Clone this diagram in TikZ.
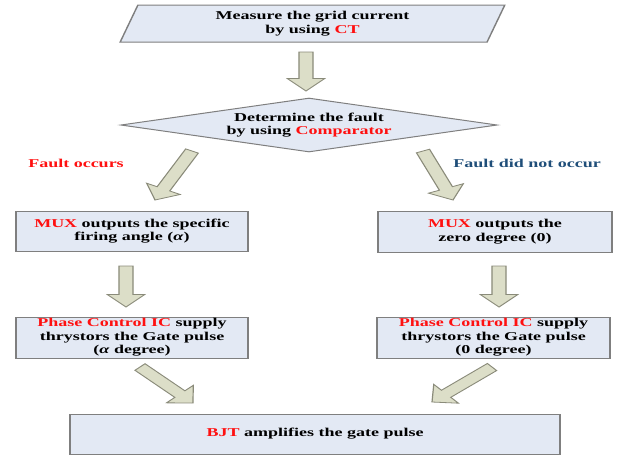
\documentclass[tikz,border=0pt]{standalone}
\usepackage{fontspec}
\setmainfont{Liberation Serif}
\usetikzlibrary{shapes.geometric, calc}

\definecolor{boxfill}{HTML}{E3E9F4}
\definecolor{boxline}{HTML}{7F7F7F}
\definecolor{arrfill}{HTML}{DCDEC8}
\definecolor{arrline}{HTML}{8A8B7A}
\definecolor{hotred}{HTML}{FF1010}
\definecolor{navytxt}{HTML}{1F4E79}

\tikzset{
  txt/.style={font=\bfseries\fontsize{12}{13.5}\selectfont, align=center, inner sep=0pt},
  stepbox/.style={txt, rectangle, draw=boxline, fill=boxfill, line width=1pt},
  fat/.style={draw=arrline, fill=arrfill, line width=0.8pt,
    to path={let \p1=($(\tikztotarget)!12.5pt!(\tikztostart)$) in
      ($(\tikztostart)!4.7pt!90:(\tikztotarget)$) -- ($(\p1)!4.7pt!90:(\tikztotarget)$)
      -- ($(\p1)!12.5pt!90:(\tikztotarget)$) -- (\tikztotarget)
      -- ($(\p1)!12.5pt!-90:(\tikztotarget)$) -- ($(\p1)!4.7pt!-90:(\tikztotarget)$)
      -- ($(\tikztostart)!4.7pt!-90:(\tikztotarget)$) -- cycle}}
}

\begin{document}
\begin{tikzpicture}[x=1pt, y=-1pt]
  \useasboundingbox (0,0) rectangle (617,456);
  \begin{scope}[transform canvas={xscale=1.5}, x=0.66667pt]
    % boxes
    \node[stepbox, trapezium, trapezium left angle=75, trapezium right angle=105,
      trapezium stretches=true, minimum width=256.7pt, minimum height=37pt] (meas) at (312.5,23.5)
      {Measure the grid current\\ by using \textcolor{hotred}{CT}};
    \node[stepbox, diamond, aspect=4.6, minimum width=251pt, minimum height=54pt] (det) at (309,125)
      {Determine the fault\\ by using \textcolor{hotred}{Comparator}};
    \node[stepbox, minimum width=154.7pt, minimum height=40pt] (muxa) at (132,231)
      {\textcolor{hotred}{MUX} outputs the specific\\ firing angle (\textit{α})};
    \node[stepbox, minimum width=156pt, minimum height=41pt] (muxb) at (495,231.5)
      {\textcolor{hotred}{MUX} outputs the\\ zero degree (0)};
    \node[stepbox, minimum width=154.7pt, minimum height=41pt] (pha) at (132,337.5)
      {\textcolor{hotred}{Phase Control IC} supply\\ thrystors the Gate pulse\\ (\textit{α} degree)};
    \node[stepbox, minimum width=155.3pt, minimum height=41pt] (phb) at (493.5,337.5)
      {\textcolor{hotred}{Phase Control IC} supply\\ thrystors the Gate pulse\\ (0 degree)};
    \node[stepbox, minimum width=326.7pt, minimum height=40pt] (bjt) at (315,434)
      {\textcolor{hotred}{BJT} amplifies the gate pulse};

    % branch labels
    \node[txt, text=hotred] (yes) at (76,163) {Fault occurs};
    \node[txt, text=navytxt] (no) at (527,163) {Fault did not occur};

    % arrow ends
    \coordinate (m0) at (306,52);   \coordinate (m1) at (306,91);
    \coordinate (l0) at (192,151);  \coordinate (l1) at (155,200);
    \coordinate (r0) at (423,151);  \coordinate (r1) at (453,200);
    \coordinate (la0) at (126,266); \coordinate (la1) at (126,307);
    \coordinate (ra0) at (499,266); \coordinate (ra1) at (499,307);
    \coordinate (lb0) at (140,367); \coordinate (lb1) at (193,403);
    \coordinate (rb0) at (492,367); \coordinate (rb1) at (432,402);

    \path[fat] (m0) to (m1);
    \path[fat] (l0) to (l1);
    \path[fat] (r0) to (r1);
    \path[fat] (la0) to (la1);
    \path[fat] (ra0) to (ra1);
    \path[fat] (lb0) to (lb1);
    \path[fat] (rb0) to (rb1);
  \end{scope}
\end{tikzpicture}
\end{document}
